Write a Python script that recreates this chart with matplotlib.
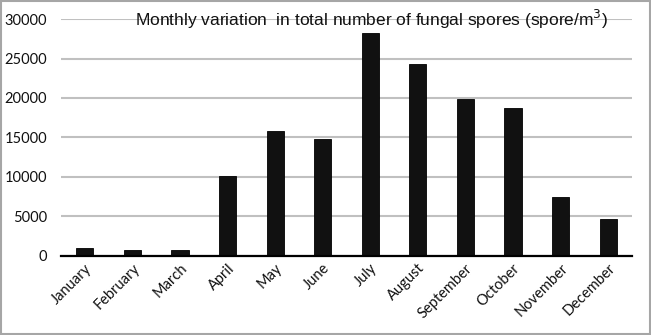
import numpy as np
import matplotlib.pyplot as plt
from matplotlib.patches import Rectangle

months = ["January", "February", "March", "April", "May", "June", "July",
          "August", "September", "October", "November", "December"]
spores = [1000, 650, 650, 10150, 15800, 14750, 28250, 24300, 19850, 18700, 7450, 4700]
yticks = [0, 5000, 10000, 15000, 20000, 25000, 30000]

fig = plt.figure(figsize=(6.51, 3.35), dpi=100)
ax = fig.add_axes([0.0937, 0.237, 0.877, 0.706])

x = np.arange(len(months))
ax.bar(x, spores, width=0.36, color="#111111", edgecolor="#000000", linewidth=0.6, zorder=3)

ax.set_xlim(-0.5, len(months) - 0.5)
ax.set_ylim(0, 30000)
ax.set_yticks(yticks)
ax.set_yticklabels([str(v) for v in yticks], fontsize=10.5, family="Lato", color="#111111")
ax.set_xticks(x)
ax.set_xticklabels(months, rotation=45, ha="right", rotation_mode="anchor",
                   fontsize=10.5, family="Lato", color="#111111")
ax.tick_params(axis="x", length=0, pad=4)
ax.tick_params(axis="y", length=0, pad=10)

ax.grid(axis="y", color="#c0c0c0", linewidth=1.5, zorder=0)
ax.set_axisbelow(True)
for s in ["top", "right", "left"]:
    ax.spines[s].set_visible(False)
ax.spines["bottom"].set_color("#000000")
ax.spines["bottom"].set_linewidth(1.6)
ax.spines["bottom"].set_zorder(4)

ax.text(0.543, 1.0, "Monthly variation  in total number of fungal spores (spore/m$^3$)",
        transform=ax.transAxes, ha="center", va="center", fontsize=12.5,
        family="Liberation Sans", color="#111111", zorder=5)

# grey frame round the whole chart
fig.patches.append(Rectangle((0.002, 0.003), 0.996, 0.994, transform=fig.transFigure,
                             fill=False, edgecolor="#a6a6a6", linewidth=1.5))

plt.savefig("out.png", dpi=100)
